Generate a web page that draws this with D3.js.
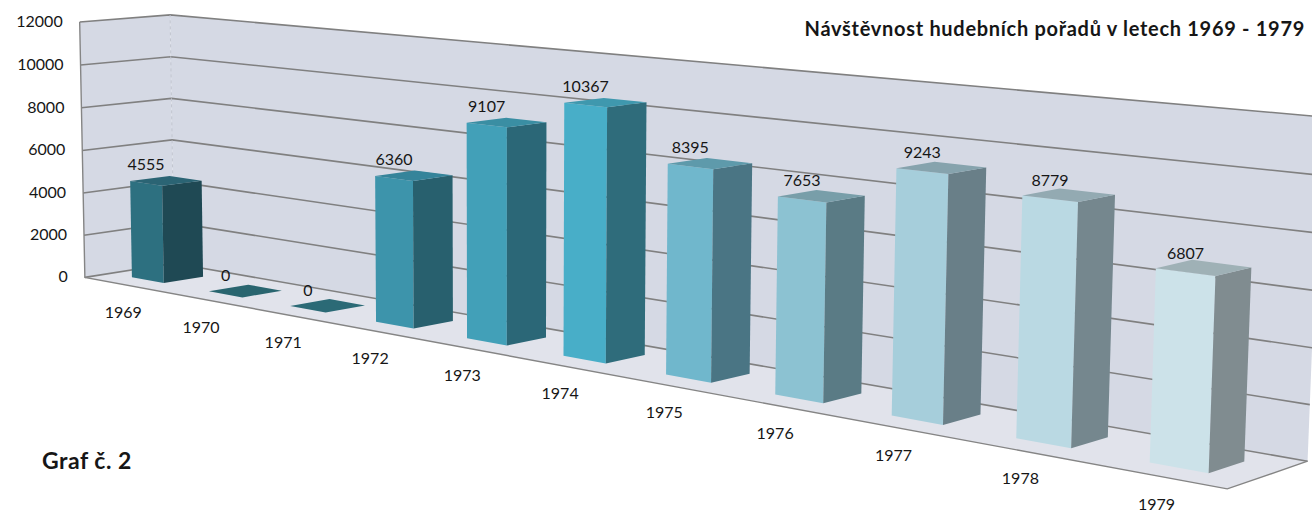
<!DOCTYPE html>
<html>
<head>
<meta charset="utf-8">
<script src="https://cdnjs.cloudflare.com/ajax/libs/d3/7.8.5/d3.min.js"></script>
<style>
  body { margin: 0; background: #fff; }
  svg { display: block; }
  text { font-family: Lato, "Open Sans", sans-serif; fill: #161616; }
</style>
</head>
<body>
<svg id="chart" width="1312" height="515"></svg>
<script>
"use strict";

// Data
var years = ["1969", "1970", "1971", "1972", "1973", "1974", "1975", "1976", "1977", "1978", "1979"];
var visitors = [4555, 0, 0, 6360, 9107, 10367, 8395, 7653, 9243, 8779, 6807];
var yTicks = [0, 2000, 4000, 6000, 8000, 10000, 12000];

// Bar shading (front / right side / top), dark teal -> pale blue
var frontColors = ["#2d7080", "#2a6874", "#2b6b77", "#3d94ab", "#42a0b8", "#48aec8", "#70b7cc", "#8cc2d2", "#a6cedb", "#bad9e3", "#cce2e9"];
var sideColors  = ["#1f4954", "#245b66", "#255e69", "#28606e", "#2b6777", "#2f6c7b", "#4a7584", "#5a7b85", "#697f88", "#75878e", "#808c90"];
var topColors   = ["#2b6474", "#29656f", "#2b6a76", "#35849a", "#3a8ea3", "#3f98ae", "#5e9aab", "#789ea9", "#86a3ad", "#93aab2", "#9fb1b6"];

// Perspective calibration: world (category units, value share, depth) -> screen px
var anchors = [
  [[0, 0, 0], [87, 277]],
  [[0, 1, 0], [78, 22]],
  [[0, 0.5, 0], [82, 150]],
  [[0, 0, 1], [172, 264]],
  [[0, 1, 1], [172, 15]],
  [[11, 0, 0], [1227, 490]],
  [[11, 0, 1], [1308, 460]],
  [[11, 1, 1], [1321, 117]]
];

// least squares fit of a 3x4 projection matrix (DLT)
function fitProjection(pairs) {
  var rows = [], rhs = [];
  pairs.forEach(function (p) {
    var X = p[0][0], Y = p[0][1], Z = p[0][2], u = p[1][0], v = p[1][1];
    rows.push([X, Y, Z, 1, 0, 0, 0, 0, -u * X, -u * Y, -u * Z]); rhs.push(u);
    rows.push([0, 0, 0, 0, X, Y, Z, 1, -v * X, -v * Y, -v * Z]); rhs.push(v);
  });
  var n = 11;
  var M = d3.range(n).map(function (i) {
    return d3.range(n + 1).map(function (j) {
      var s = 0;
      rows.forEach(function (r, k) { s += r[i] * (j < n ? r[j] : rhs[k]); });
      return s;
    });
  });
  for (var c = 0; c < n; c++) {
    var piv = c;
    for (var r = c + 1; r < n; r++) if (Math.abs(M[r][c]) > Math.abs(M[piv][c])) piv = r;
    var tmp = M[c]; M[c] = M[piv]; M[piv] = tmp;
    for (var r2 = 0; r2 < n; r2++) {
      if (r2 === c) continue;
      var f = M[r2][c] / M[c][c];
      for (var k = c; k <= n; k++) M[r2][k] -= f * M[c][k];
    }
  }
  return M.map(function (row, i) { return row[n] / row[i]; });
}

var P = fitProjection(anchors);
function project(pt) {
  var X = pt[0], Y = pt[1], Z = pt[2];
  var w = P[8] * X + P[9] * Y + P[10] * Z + 1;
  return [(P[0] * X + P[1] * Y + P[2] * Z + P[3]) / w, (P[4] * X + P[5] * Y + P[6] * Z + P[7]) / w];
}

// scales into world units
var x = d3.scaleBand().domain(years).range([0, years.length]).paddingInner(0.58).paddingOuter(0.29);
var y = d3.scaleLinear().domain([0, 12000]).range([0, 1]);
var zFront = 0.28, zBack = 0.72;
var N = years.length;

var svg = d3.select("#chart");
var line = d3.line();
function poly(g, pts, fill, stroke) {
  return g.append("path")
    .attr("d", line(pts.map(project)) + "Z")
    .attr("fill", fill)
    .attr("stroke", stroke || "none");
}

var walls = svg.append("g");
poly(walls, [[0, 0, 0], [0, 1, 0], [0, 1, 1], [0, 0, 1]], "#d5d9e4");
poly(walls, [[0, 0, 1], [N, 0, 1], [N, 1, 1], [0, 1, 1]], "#d5d9e4");
poly(walls, [[0, 0, 0], [N, 0, 0], [N, 0, 1], [0, 0, 1]], "#e1e3eb");

// gridlines on back and side wall
var grid = svg.append("g").attr("stroke", "#808080").attr("stroke-width", 1.6).attr("fill", "none");
yTicks.forEach(function (t) {
  grid.append("path").attr("d", line([[0, y(t), 0], [0, y(t), 1], [N, y(t), 1]].map(project)));
});
// corner between walls
svg.append("path").attr("d", line([[0, 0, 1], [0, 1, 1]].map(project)))
  .attr("stroke", "#c2c6d0").attr("stroke-dasharray", "3,3").attr("fill", "none");
// outline edges
svg.append("path").attr("d", line([[0, 1, 0], [0, 0, 0], [N, 0, 0], [N, 0, 1]].map(project)))
  .attr("stroke", "#858585").attr("stroke-width", 1.4).attr("fill", "none");

// bars
var bars = svg.append("g");
years.forEach(function (yr, i) {
  var x0 = x(yr), x1 = x(yr) + x.bandwidth(), h = y(visitors[i]);
  var g = bars.append("g");
  if (h > 0) {
    poly(g, [[x0, 0, zFront], [x1, 0, zFront], [x1, h, zFront], [x0, h, zFront]], frontColors[i]);
    poly(g, [[x1, 0, zFront], [x1, 0, zBack], [x1, h, zBack], [x1, h, zFront]], sideColors[i]);
  }
  poly(g, [[x0, h, zFront], [x1, h, zFront], [x1, h, zBack], [x0, h, zBack]], topColors[i]);
});

// value labels above the bars
years.forEach(function (yr, i) {
  var p = project([x(yr) + x.bandwidth() / 2, y(visitors[i]), zFront]);
  svg.append("text").attr("x", p[0]).attr("y", p[1] - 13)
    .attr("text-anchor", "middle").attr("font-size", 16).text(visitors[i]);
});

// category labels in front of the floor
years.forEach(function (yr) {
  var p = project([x(yr) + x.bandwidth() / 2, 0, 0]);
  svg.append("text").attr("x", p[0] + 1).attr("y", p[1] + 34)
    .attr("text-anchor", "middle").attr("font-size", 16).text(yr);
});

// value axis labels
yTicks.forEach(function (t) {
  var p = project([0, y(t), 0]);
  svg.append("text").attr("x", p[0] - 17).attr("y", p[1] + 5)
    .attr("text-anchor", "end").attr("font-size", 16).text(t);
});

svg.append("text").attr("x", 1305).attr("y", 36).attr("text-anchor", "end")
  .attr("font-size", 20).attr("font-weight", 700).attr("letter-spacing", 0.7)
  .text("Návštěvnost hudebních pořadů v letech 1969 - 1979");
svg.append("text").attr("x", 42).attr("y", 469)
  .attr("font-size", 23).attr("font-weight", 700).attr("letter-spacing", 0.5).text("Graf č. 2");
</script>
</body>
</html>
